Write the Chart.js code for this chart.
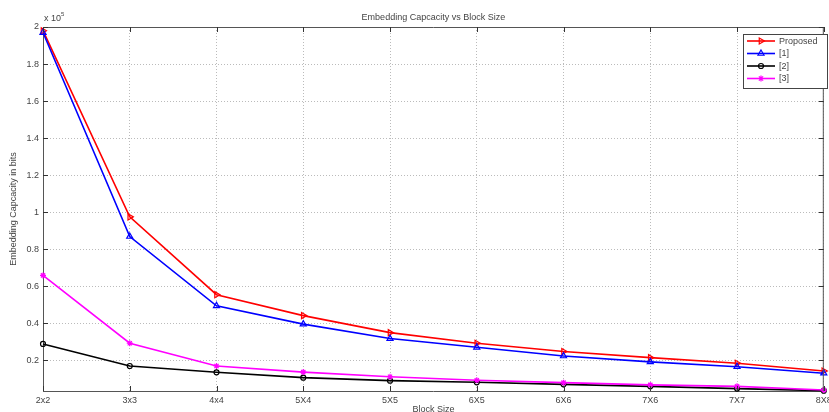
<!DOCTYPE html>
<html>
<head>
<meta charset="utf-8">
<script src="https://cdn.jsdelivr.net/npm/chart.js@4"></script>
<style>
  html, body { margin: 0; padding: 0; background: #fff; }
  #wrap { width: 829px; height: 412px; }
</style>
</head>
<body>
<div id="wrap"><canvas id="capacityChart" width="829" height="412"></canvas></div>
<script>
const blockSizes = ['2x2', '3x3', '4x4', '5X4', '5X5', '6X5', '6X6', '7X6', '7X7', '8X8'];

// values in units of 10^5 bits
const proposed = [1.98, 0.975, 0.555, 0.442, 0.350, 0.293, 0.248, 0.215, 0.185, 0.143];
const ref1     = [1.97, 0.869, 0.495, 0.396, 0.318, 0.271, 0.224, 0.192, 0.166, 0.131];
const ref2     = [0.289, 0.170, 0.136, 0.107, 0.091, 0.082, 0.071, 0.060, 0.048, 0.037];
const ref3     = [0.659, 0.293, 0.170, 0.137, 0.112, 0.093, 0.080, 0.068, 0.060, 0.040];

const yTicks = [0.2, 0.4, 0.6, 0.8, 1, 1.2, 1.4, 1.6, 1.8, 2];

const seriesStyle = [
  { label: 'Proposed', color: '#ff0000', style: 'triangle', rotation: 90, radius: 3.5, fill: 'rgba(0,0,0,0)' },
  { label: '[1]',      color: '#0000ff', style: 'triangle', rotation: 0,  radius: 3.5, fill: 'rgba(0,0,0,0)' },
  { label: '[2]',      color: '#000000', style: 'circle',   rotation: 0,  radius: 2.5, fill: 'rgba(0,0,0,0)' },
  { label: '[3]',      color: '#ff00ff', style: 'star',     rotation: 0,  radius: 3,   fill: '#ff00ff' }
];
const seriesData = [proposed, ref1, ref2, ref3];

const FONT = '"Liberation Sans", Arial, sans-serif';
const textColor = '#444';

// draws title, axis labels, inward ticks, box and legend
const matlabLook = {
  id: 'matlabLook',
  afterDraw(chart) {
    const { ctx, chartArea: a, scales } = chart;
    ctx.save();

    // box top/right
    ctx.strokeStyle = '#555';
    ctx.lineWidth = 1;
    ctx.beginPath();
    ctx.moveTo(a.left, a.top + 0.5);
    ctx.lineTo(a.right, a.top + 0.5);
    ctx.moveTo(a.right - 0.5, a.top);
    ctx.lineTo(a.right - 0.5, a.bottom);
    ctx.stroke();

    // inward tick marks
    ctx.strokeStyle = '#333';
    ctx.beginPath();
    blockSizes.forEach((b, i) => {
      const x = Math.round(scales.x.getPixelForValue(i)) + 0.5;
      ctx.moveTo(x, a.bottom); ctx.lineTo(x, a.bottom - 5);
      ctx.moveTo(x, a.top); ctx.lineTo(x, a.top + 5);
    });
    yTicks.forEach(v => {
      const y = Math.round(scales.y.getPixelForValue(v)) + 0.5;
      ctx.moveTo(a.left, y); ctx.lineTo(a.left + 5, y);
      ctx.moveTo(a.right, y); ctx.lineTo(a.right - 5, y);
    });
    ctx.stroke();

    // title and multiplier
    ctx.fillStyle = textColor;
    ctx.font = '9px ' + FONT;
    ctx.textAlign = 'center';
    ctx.textBaseline = 'middle';
    ctx.fillText('Embedding Capcacity vs Block Size', (a.left + a.right) / 2, 18);
    ctx.textAlign = 'left';
    ctx.fillText('x 10', 44, 19);
    ctx.font = '6px ' + FONT;
    ctx.fillText('5', 61, 14);

    // axis titles
    ctx.font = '9px ' + FONT;
    ctx.textAlign = 'center';
    ctx.fillText('Block Size', (a.left + a.right) / 2, 410);
    ctx.save();
    ctx.translate(14, (a.top + a.bottom) / 2);
    ctx.rotate(-Math.PI / 2);
    ctx.fillText('Embedding Capcacity in bits', 0, 0);
    ctx.restore();

    // legend
    const lx = 743, ly = 34, lw = 84, lh = 54;
    ctx.fillStyle = '#fff';
    ctx.fillRect(lx, ly, lw, lh);
    ctx.strokeStyle = '#444';
    ctx.lineWidth = 1;
    ctx.strokeRect(lx + 0.5, ly + 0.5, lw, lh);
    seriesStyle.forEach((s, i) => {
      const y = ly + 7 + i * 12.5;
      ctx.strokeStyle = s.color;
      ctx.lineWidth = 1.6;
      ctx.beginPath();
      ctx.moveTo(lx + 4, y);
      ctx.lineTo(lx + 32, y);
      ctx.stroke();
      ctx.lineWidth = 1.2;
      ctx.fillStyle = s.fill;
      Chart.helpers.drawPoint(ctx, { pointStyle: s.style, rotation: s.rotation, radius: s.radius, borderWidth: 1.2 }, lx + 18, y);
      ctx.fillStyle = textColor;
      ctx.font = '9px ' + FONT;
      ctx.textAlign = 'left';
      ctx.fillText(s.label, lx + 36, y + 0.5);
    });

    ctx.restore();
  }
};

new Chart(document.getElementById('capacityChart'), {
  type: 'line',
  data: {
    labels: blockSizes,
    datasets: seriesStyle.map((s, i) => ({
      label: s.label,
      data: seriesData[i],
      borderColor: s.color,
      backgroundColor: s.color,
      borderWidth: 1.6,
      pointStyle: s.style,
      rotation: s.rotation,
      pointRadius: s.radius,
      pointBorderWidth: 1.2,
      pointBorderColor: s.color,
      pointBackgroundColor: s.fill,
      tension: 0,
      fill: false,
      clip: 6
    })).reverse()
  },
  options: {
    responsive: false,
    animation: false,
    layout: { padding: { top: 27, right: 1, bottom: 0, left: 0 } },
    plugins: {
      legend: { display: false },
      title: { display: false },
      tooltip: { enabled: false }
    },
    scales: {
      x: {
        offset: false,
        grid: { color: '#bbb', drawTicks: false },
        border: { color: '#555', dash: [1, 2] },
        ticks: { color: textColor, font: { family: FONT, size: 9 }, padding: 4, maxRotation: 0, autoSkip: false },
        afterFit(scale) {
          scale.height = 21;
          scale.paddingLeft = 0;
          scale.paddingRight = 0;
        }
      },
      y: {
        min: 0.035,
        max: 2,
        grid: { color: '#bbb', drawTicks: false },
        border: { color: '#555', dash: [1, 2] },
        ticks: {
          color: textColor,
          font: { family: FONT, size: 9 },
          padding: 4,
          callback: v => String(+v.toFixed(1))
        },
        afterBuildTicks(scale) {
          scale.ticks = yTicks.map(v => ({ value: v }));
        },
        afterFit(scale) {
          scale.width = 43;
          scale.paddingTop = 0;
          scale.paddingBottom = 0;
        }
      }
    }
  },
  plugins: [matlabLook]
});
</script>
</body>
</html>
